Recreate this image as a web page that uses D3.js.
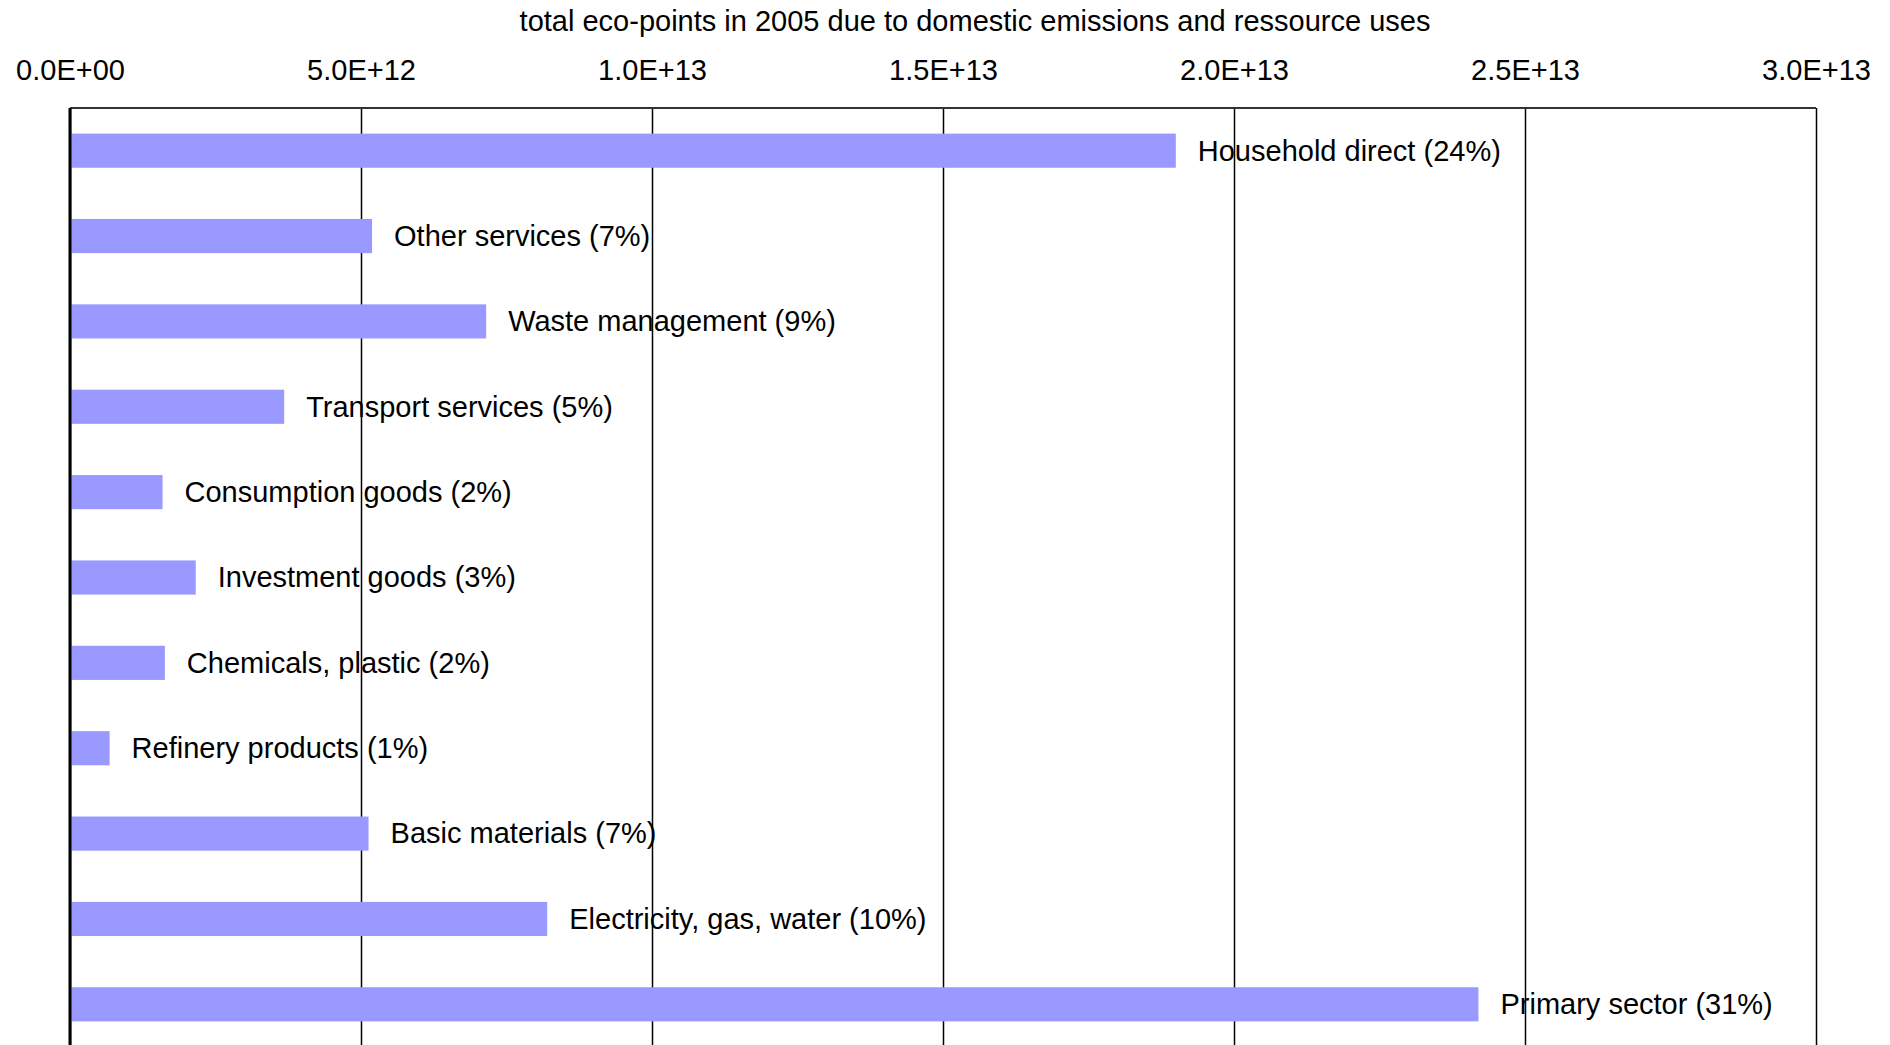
<!DOCTYPE html>
<html>
<head>
<meta charset="utf-8">
<script src="https://cdn.jsdelivr.net/npm/d3@7"></script>
<style>
  html, body { margin: 0; padding: 0; background: #fff; }
  svg text { font-family: "Liberation Sans", Arial, sans-serif; fill: #000; }
</style>
</head>
<body>
<div id="chart"></div>
<script>
// Data (eco-points, 2005)
const categories = [
  'Household direct', 'Other services', 'Waste management', 'Transport services',
  'Consumption goods', 'Investment goods', 'Chemicals, plastic', 'Refinery products',
  'Basic materials', 'Electricity, gas, water', 'Primary sector'
];
const values = [
  1.90e13, 5.19e12, 7.15e12, 3.68e12,
  1.59e12, 2.16e12, 1.63e12, 0.68e12,
  5.13e12, 8.20e12, 2.42e13
];
const shares = ['24%', '7%', '9%', '5%', '2%', '3%', '2%', '1%', '7%', '10%', '31%'];
const tickValues = [0, 5e12, 1e13, 1.5e13, 2e13, 2.5e13, 3e13];

const title = 'total eco-points in 2005 due to domestic emissions and ressource uses';

const width = 1890, height = 1045;
const plot = { left: 70, right: 1816, top: 108, bottom: 1047 };

const svg = d3.select('#chart').append('svg')
  .attr('width', width)
  .attr('height', height);

const x = d3.scaleLinear().domain([0, 3e13]).range([plot.left, plot.right]);
const y = d3.scaleBand().domain(categories).range([plot.top, plot.bottom])
  .paddingInner(0.6).paddingOuter(0.3);

const fmt = v => v.toExponential(1).replace('e', 'E').replace(/E\+(\d)$/, 'E+0$1');

// title
svg.append('text')
  .attr('x', 975).attr('y', 31)
  .attr('text-anchor', 'middle')
  .style('font-size', '29px')
  .text(title);

// grid lines + tick labels (bars sit on top of them)
svg.append('g')
  .attr('transform', `translate(0,${plot.top})`)
  .call(d3.axisTop(x).tickValues(tickValues).tickFormat(fmt).tickSize(-(plot.bottom - plot.top)).tickPadding(28))
  .call(g => g.select('.domain').remove())
  .call(g => g.selectAll('line').attr('stroke', '#000').attr('stroke-width', 1.5))
  .call(g => g.selectAll('text').style('font-size', '29px').attr('fill', '#222'));

// bars
svg.selectAll('rect.bar')
  .data(categories)
  .join('rect')
  .attr('class', 'bar')
  .attr('x', x(0))
  .attr('y', d => y(d))
  .attr('width', (d, i) => x(values[i]) - x(0))
  .attr('height', y.bandwidth())
  .attr('fill', '#9999FF');

// frame: top border and thicker value-axis line at zero
svg.append('line')
  .attr('x1', plot.left).attr('x2', plot.right)
  .attr('y1', plot.top).attr('y2', plot.top)
  .attr('stroke', '#333').attr('stroke-width', 2);
svg.append('line')
  .attr('x1', x(0)).attr('x2', x(0))
  .attr('y1', plot.top).attr('y2', plot.bottom)
  .attr('stroke', '#000').attr('stroke-width', 3);

// labels to the right of each bar
svg.selectAll('text.lbl')
  .data(categories)
  .join('text')
  .attr('class', 'lbl')
  .attr('x', (d, i) => x(values[i]) + 22)
  .attr('y', d => y(d) + y.bandwidth() / 2)
  .attr('dy', '0.34em')
  .style('font-size', '29px')
  .attr('fill', '#111')
  .text((d, i) => `${d} (${shares[i]})`);
</script>
</body>
</html>
